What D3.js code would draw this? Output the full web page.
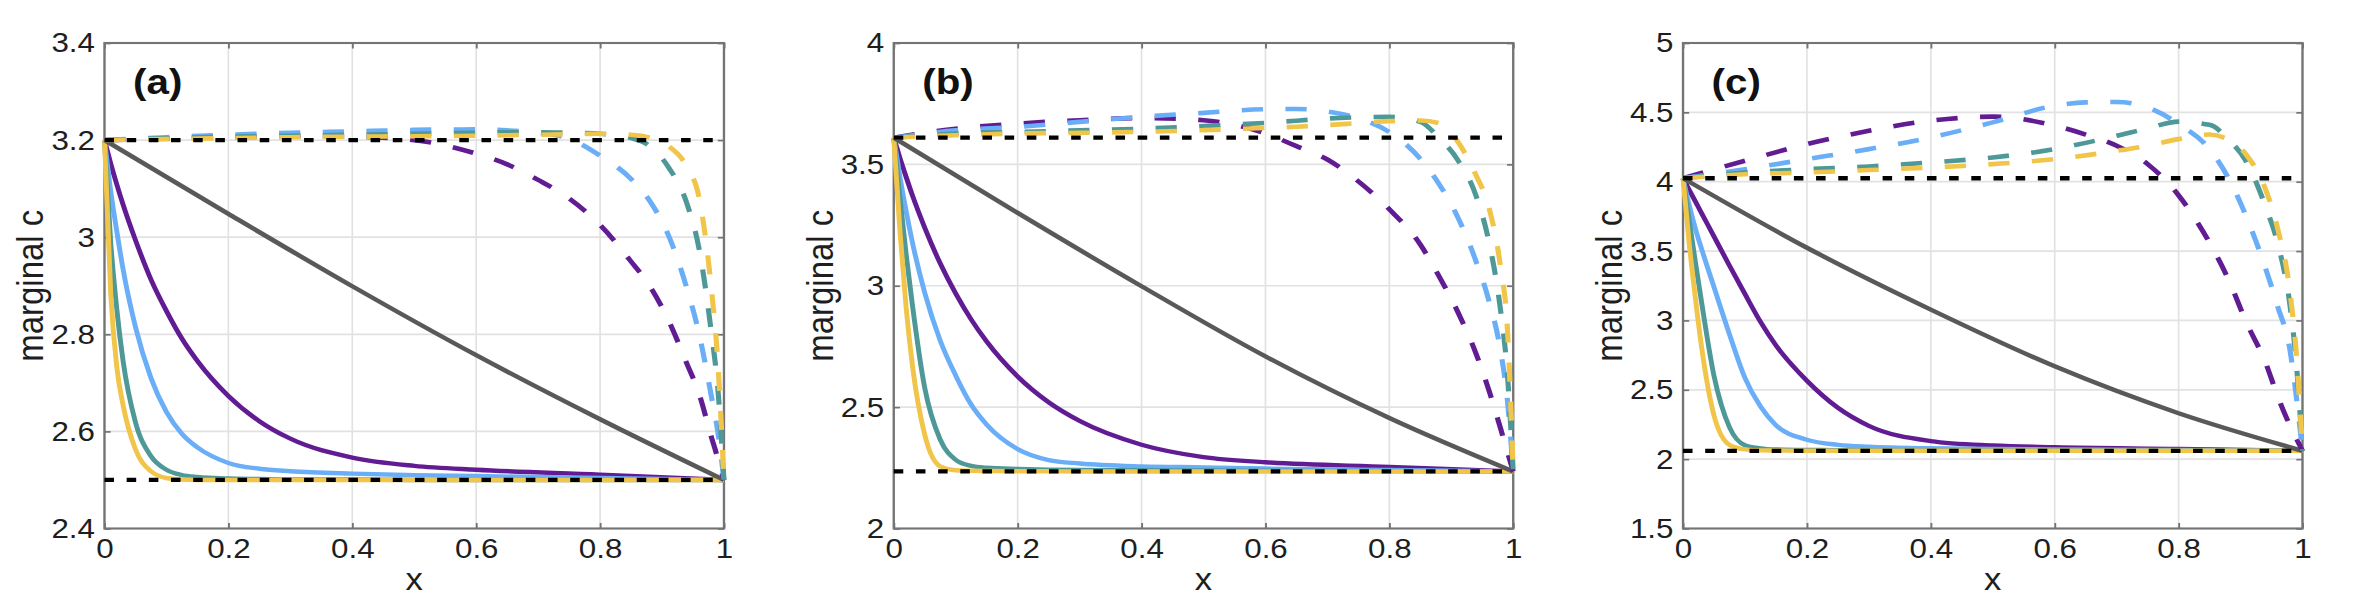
<!DOCTYPE html>
<html>
<head>
<meta charset="utf-8">
<script src="https://cdn.jsdelivr.net/npm/d3@7"></script>
<style>
  body { margin: 0; background: #fff; }
</style>
</head>
<body>
<div id="placeholder"></div>
<script>
// x positions the curves were read at
var solidX = [0, 0.01, 0.02, 0.03, 0.05, 0.075, 0.1, 0.125, 0.15, 0.2, 0.25, 0.3, 0.4, 0.5, 0.6, 0.8, 1];
var dashX = [0, 0.1, 0.2, 0.3, 0.4, 0.5, 0.6, 0.65, 0.7, 0.75, 0.8, 0.85, 0.88, 0.91, 0.94, 0.96, 0.98, 0.99, 1];
var grayX = [0, 0.2, 0.4, 0.6, 0.8, 1];
var xTicks = [0, 0.2, 0.4, 0.6, 0.8, 1];
var seriesColors = ["#621c93", "#6aaef8", "#4e9998", "#f1c54a"]; // purple, blue, teal, yellow

// panel (a)
var aYDomain = [2.4, 3.4];
var aYTicks = [2.4, 2.6, 2.8, 3, 3.2, 3.4];
var aLevels = [3.2, 2.5];
var aGray = [3.2, 3.048, 2.899, 2.757, 2.625, 2.5];
var aSolidPurple = [3.2, 3.152, 3.108, 3.067, 2.994, 2.913, 2.848, 2.791, 2.745, 2.673, 2.621, 2.585, 2.546, 2.529, 2.521, 2.511, 2.5];
var aSolidBlue = [3.2, 3.095, 3.011, 2.934, 2.815, 2.71, 2.64, 2.595, 2.567, 2.535, 2.523, 2.518, 2.513, 2.51, 2.508, 2.504, 2.5];
var aSolidTeal = [3.2, 2.99, 2.85, 2.745, 2.619, 2.549, 2.521, 2.51, 2.506, 2.503, 2.502, 2.501, 2.501, 2.5, 2.5, 2.5, 2.5];
var aSolidYellow = [3.2, 2.885, 2.731, 2.654, 2.563, 2.518, 2.504, 2.501, 2.5, 2.5, 2.5, 2.5, 2.5, 2.5, 2.5, 2.5, 2.5];
var aDashPurple = [3.2, 3.203, 3.206, 3.208, 3.207, 3.2, 3.172, 3.15, 3.118, 3.08, 3.025, 2.95, 2.9, 2.83, 2.74, 2.677, 2.587, 2.545, 2.5];
var aDashBlue = [3.2, 3.206, 3.211, 3.215, 3.218, 3.221, 3.222, 3.22, 3.215, 3.203, 3.168, 3.12, 3.075, 3.005, 2.895, 2.8, 2.67, 2.6, 2.5];
var aDashTeal = [3.2, 3.204, 3.207, 3.209, 3.211, 3.213, 3.215, 3.216, 3.216, 3.215, 3.213, 3.204, 3.188, 3.145, 3.07, 2.975, 2.8, 2.69, 2.5];
var aDashYellow = [3.2, 3.202, 3.204, 3.206, 3.207, 3.208, 3.209, 3.21, 3.211, 3.212, 3.213, 3.211, 3.205, 3.188, 3.145, 3.08, 2.89, 2.745, 2.5];

// panel (b)
var bYDomain = [2, 4];
var bYTicks = [2, 2.5, 3, 3.5, 4];
var bLevels = [3.61, 2.235];
var bGray = [3.61, 3.3, 2.998, 2.709, 2.455, 2.235];
var bSolidPurple = [3.61, 3.526, 3.448, 3.373, 3.239, 3.092, 2.968, 2.861, 2.77, 2.626, 2.52, 2.443, 2.345, 2.294, 2.273, 2.254, 2.235];
var bSolidBlue = [3.61, 3.448, 3.306, 3.18, 2.971, 2.774, 2.63, 2.51, 2.428, 2.327, 2.282, 2.268, 2.256, 2.252, 2.247, 2.241, 2.235];
var bSolidTeal = [3.61, 3.363, 3.129, 2.923, 2.579, 2.366, 2.283, 2.258, 2.25, 2.245, 2.242, 2.241, 2.24, 2.239, 2.238, 2.237, 2.235];
var bSolidYellow = [3.61, 3.225, 2.909, 2.675, 2.386, 2.256, 2.24, 2.238, 2.237, 2.236, 2.236, 2.235, 2.235, 2.235, 2.235, 2.235, 2.235];
var bDashPurple = [3.61, 3.647, 3.668, 3.682, 3.691, 3.682, 3.627, 3.575, 3.52, 3.43, 3.315, 3.17, 3.04, 2.895, 2.72, 2.575, 2.408, 2.32, 2.235];
var bDashBlue = [3.61, 3.64, 3.654, 3.675, 3.696, 3.712, 3.727, 3.728, 3.718, 3.69, 3.633, 3.523, 3.42, 3.285, 3.1, 2.945, 2.725, 2.545, 2.235];
var bDashTeal = [3.61, 3.627, 3.634, 3.64, 3.647, 3.658, 3.671, 3.68, 3.689, 3.694, 3.696, 3.675, 3.61, 3.52, 3.37, 3.19, 2.89, 2.656, 2.235];
var bDashYellow = [3.61, 3.62, 3.627, 3.63, 3.634, 3.641, 3.65, 3.655, 3.662, 3.67, 3.678, 3.681, 3.67, 3.595, 3.455, 3.33, 3.069, 2.848, 2.235];

// panel (c)
var cYDomain = [1.5, 5];
var cYTicks = [1.5, 2, 2.5, 3, 3.5, 4, 4.5, 5];
var cLevels = [4.025, 2.06];
var cGray = [4.025, 3.524, 3.078, 2.669, 2.331, 2.06];
var cSolidPurple = [4.025, 3.941, 3.857, 3.773, 3.605, 3.395, 3.19, 2.99, 2.82, 2.565, 2.37, 2.24, 2.13, 2.098, 2.086, 2.074, 2.06];
var cSolidBlue = [4.025, 3.83, 3.66, 3.515, 3.24, 2.9, 2.585, 2.38, 2.245, 2.14, 2.103, 2.089, 2.078, 2.074, 2.07, 2.066, 2.06];
var cSolidTeal = [4.025, 3.72, 3.42, 3.13, 2.6, 2.23, 2.1, 2.078, 2.07, 2.066, 2.065, 2.064, 2.063, 2.062, 2.062, 2.061, 2.06];
var cSolidYellow = [4.025, 3.553, 3.16, 2.807, 2.315, 2.103, 2.07, 2.063, 2.062, 2.061, 2.061, 2.06, 2.06, 2.06, 2.06, 2.06, 2.06];
var cDashPurple = [4.025, 4.151, 4.271, 4.367, 4.44, 4.469, 4.404, 4.34, 4.259, 4.127, 3.902, 3.56, 3.3, 2.98, 2.7, 2.452, 2.24, 2.15, 2.06];
var cDashBlue = [4.025, 4.09, 4.163, 4.235, 4.319, 4.428, 4.548, 4.572, 4.575, 4.536, 4.416, 4.235, 4.03, 3.74, 3.38, 3.1, 2.78, 2.452, 2.06];
var cDashTeal = [4.025, 4.066, 4.09, 4.11, 4.139, 4.175, 4.235, 4.28, 4.331, 4.385, 4.433, 4.41, 4.307, 4.14, 3.825, 3.555, 3.102, 2.693, 2.06];
var cDashYellow = [4.025, 4.054, 4.066, 4.084, 4.102, 4.127, 4.163, 4.19, 4.223, 4.26, 4.307, 4.34, 4.303, 4.19, 3.95, 3.66, 3.199, 2.765, 2.06];

var panels = [
    { label: "(a)", yDomain: aYDomain, yTicks: aYTicks, levels: aLevels, gray: aGray,
      solid: [aSolidPurple, aSolidBlue, aSolidTeal, aSolidYellow],
      dashed: [aDashPurple, aDashBlue, aDashTeal, aDashYellow] },
    { label: "(b)", yDomain: bYDomain, yTicks: bYTicks, levels: bLevels, gray: bGray,
      solid: [bSolidPurple, bSolidBlue, bSolidTeal, bSolidYellow],
      dashed: [bDashPurple, bDashBlue, bDashTeal, bDashYellow] },
    { label: "(c)", yDomain: cYDomain, yTicks: cYTicks, levels: cLevels, gray: cGray,
      solid: [cSolidPurple, cSolidBlue, cSolidTeal, cSolidYellow],
      dashed: [cDashPurple, cDashBlue, cDashTeal, cDashYellow] }
];

// the original figure is a little wider than tall, text included,
// so draw in a narrower viewBox and let it stretch sideways
var W = 2378, H = 600, stretch = 1.12;
var margin = { top: 43, left: 93.3, bottom: 71.5 },
    panelW = 553.1, panelStep = 704.7,
    panelH = H - margin.top - margin.bottom;
var font = "'Liberation Sans', Arial, Helvetica, sans-serif";
var axisColor = "#747474", gridColor = "#e2e2e2", tickLen = 5.5;
var fmt = function (d) { return String(+d.toFixed(2)); };

var svg = d3.select("#placeholder")
    .append("svg")
    .attr("width", W)
    .attr("height", H)
    .attr("viewBox", "0 0 " + (W / stretch) + " " + H)
    .attr("preserveAspectRatio", "none");

function styleAxis(sel) {
    sel.attr("font-family", font).attr("font-size", 28);
    sel.select(".domain").remove();
    sel.selectAll("line").attr("stroke", axisColor).attr("stroke-width", 1.7);
    sel.selectAll("text").attr("fill", "#1e1e1e");
}

function newPanel(p, i) {
    var g = svg.append("g")
        .attr("transform", "translate(" + (margin.left + i * panelStep) + "," + margin.top + ")");

    var x = d3.scaleLinear().domain([0, 1]).range([0, panelW]);
    var y = d3.scaleLinear().domain(p.yDomain).range([panelH, 0]);

    // grid
    g.selectAll(".vgrid").data(xTicks).enter().append("line")
        .attr("x1", function (d) { return x(d) }).attr("x2", function (d) { return x(d) })
        .attr("y1", 0).attr("y2", panelH)
        .attr("stroke", gridColor).attr("stroke-width", 1.5);
    g.selectAll(".hgrid").data(p.yTicks).enter().append("line")
        .attr("x1", 0).attr("x2", panelW)
        .attr("y1", function (d) { return y(d) }).attr("y2", function (d) { return y(d) })
        .attr("stroke", gridColor).attr("stroke-width", 1.7);

    // axes, ticks point inward on all four sides
    g.append("g").attr("transform", "translate(0," + panelH + ")")
        .call(d3.axisBottom(x).tickValues(xTicks).tickSizeInner(-tickLen).tickSizeOuter(0).tickPadding(9.3).tickFormat(fmt))
        .call(styleAxis);
    g.append("g")
        .call(d3.axisTop(x).tickValues(xTicks).tickSizeInner(-tickLen).tickSizeOuter(0).tickFormat(""))
        .call(styleAxis);
    g.append("g")
        .call(d3.axisLeft(y).tickValues(p.yTicks).tickSizeInner(-tickLen).tickSizeOuter(0).tickPadding(8.5).tickFormat(fmt))
        .call(styleAxis);
    g.append("g").attr("transform", "translate(" + panelW + ",0)")
        .call(d3.axisRight(y).tickValues(p.yTicks).tickSizeInner(-tickLen).tickSizeOuter(0).tickFormat(""))
        .call(styleAxis);

    g.append("rect")
        .attr("width", panelW).attr("height", panelH)
        .attr("fill", "none").attr("stroke", axisColor).attr("stroke-width", 2.1);

    var line = d3.line()
        .x(function (d) { return x(d[0]) })
        .y(function (d) { return y(d[1]) })
        .curve(d3.curveMonotoneX);

    // solid curves
    g.selectAll(".solid").data(p.solid).enter().append("path")
        .attr("d", function (d) { return line(d3.zip(solidX, d)) })
        .attr("fill", "none")
        .attr("stroke", function (d, k) { return seriesColors[k] })
        .attr("stroke-width", 4.4);

    g.append("path")
        .attr("d", line(d3.zip(grayX, p.gray)))
        .attr("fill", "none").attr("stroke", "#595959").attr("stroke-width", 4.4);

    // dashed curves
    g.selectAll(".dashed").data(p.dashed).enter().append("path")
        .attr("d", function (d) { return line(d3.zip(dashX, d)) })
        .attr("fill", "none")
        .attr("stroke", function (d, k) { return seriesColors[k] })
        .attr("stroke-width", 4.6)
        .attr("stroke-dasharray", "19,20");

    // black dashed reference levels
    g.selectAll(".level").data(p.levels).enter().append("line")
        .attr("x1", x(0)).attr("x2", x(1))
        .attr("y1", function (d) { return y(d) }).attr("y2", function (d) { return y(d) })
        .attr("stroke", "#000").attr("stroke-width", 4.3)
        .attr("stroke-dasharray", "8.5,11.3");

    // panel letter
    g.append("text")
        .attr("x", 25.5).attr("y", 51)
        .attr("font-family", font).attr("font-weight", "bold").attr("font-size", 36)
        .attr("fill", "#111")
        .text(p.label);

    // axis titles
    g.append("text")
        .attr("transform", "translate(-54.6," + (panelH / 2) + ") rotate(-90)")
        .attr("text-anchor", "middle")
        .attr("font-family", font).attr("font-size", 33).attr("fill", "#1e1e1e")
        .text("marginal c");
    g.append("text")
        .attr("x", panelW / 2).attr("y", panelH + 62)
        .attr("text-anchor", "middle")
        .attr("font-family", font).attr("font-size", 31).attr("fill", "#1e1e1e")
        .text("x");
}

panels.forEach(newPanel);
</script>
</body>
</html>
